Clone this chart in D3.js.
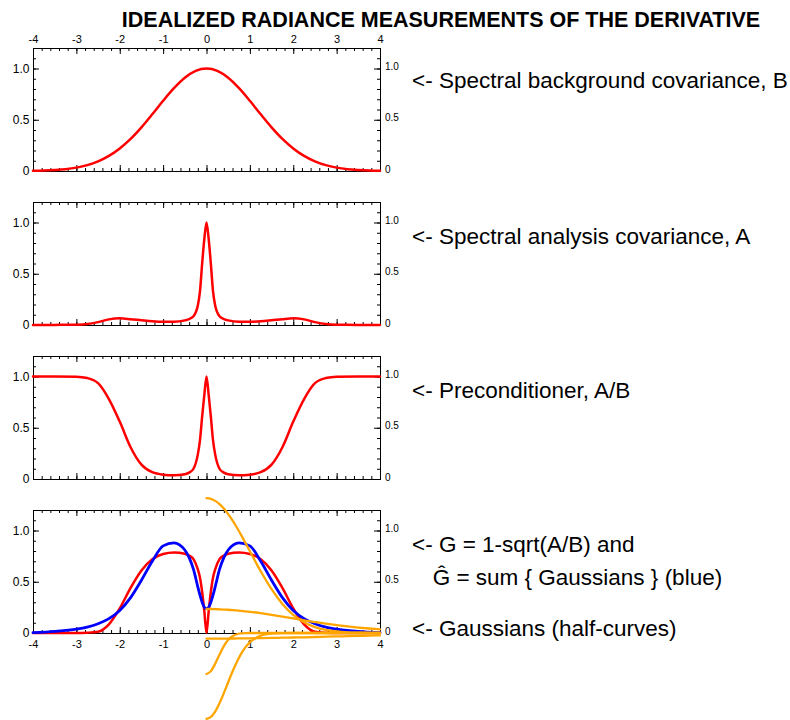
<!DOCTYPE html>
<html>
<head>
<meta charset="utf-8">
<script src="https://cdn.jsdelivr.net/npm/d3@7"></script>
<style>
body { margin: 0; background: #fff; }
text { font-family: "Liberation Sans", Arial, Helvetica, sans-serif; }
</style>
</head>
<body>
<div id="chart"></div>
<script>
const width = 790, height = 720;
const left = 33, right = 380, panelH = 123;
const panelTops = [48, 202, 356, 510];

const titleText = "IDEALIZED RADIANCE MEASUREMENTS OF THE DERIVATIVE";
const xTicks = [-4, -3, -2, -1, 0, 1, 2, 3, 4];
const yTicks = [0, 0.5, 1.0];
const yTickLabels = ["0", "0.5", "1.0"];

// panel 1: background covariance B
const xB = [-4, -3.75, -3.5, -3.25, -3, -2.75, -2.5, -2.25, -2, -1.75, -1.5, -1.25, -1, -0.75, -0.5, -0.25,
  0, 0.25, 0.5, 0.75, 1, 1.25, 1.5, 1.75, 2, 2.25, 2.5, 2.75, 3, 3.25, 3.5, 3.75, 4];
const valB = [0.002, 0.005, 0.010, 0.018, 0.033, 0.057, 0.094, 0.147, 0.220, 0.313, 0.426, 0.553, 0.685, 0.808, 0.910, 0.977,
  1.000, 0.977, 0.910, 0.808, 0.685, 0.553, 0.426, 0.313, 0.220, 0.147, 0.094, 0.057, 0.033, 0.018, 0.010, 0.005, 0.002];

// panels 2-4 share a finer grid around the spike
const xFine = [-4, -3.5, -3, -2.75, -2.5, -2.25, -2, -1.75, -1.5, -1.25, -1, -0.75, -0.5, -0.4, -0.3, -0.2, -0.15, -0.1, -0.05,
  0, 0.05, 0.1, 0.15, 0.2, 0.3, 0.4, 0.5, 0.75, 1, 1.25, 1.5, 1.75, 2, 2.25, 2.5, 2.75, 3, 3.5, 4];
const valA = [0, 0.001, 0.003, 0.009, 0.028, 0.055, 0.065, 0.057, 0.046, 0.036, 0.031, 0.031, 0.045, 0.058, 0.085, 0.19, 0.33, 0.60, 0.84,
  1.0, 0.84, 0.60, 0.33, 0.19, 0.085, 0.058, 0.045, 0.031, 0.031, 0.036, 0.046, 0.057, 0.065, 0.055, 0.028, 0.009, 0.003, 0.001, 0];
const valAB = [1.0, 1.0, 0.998, 0.985, 0.935, 0.78, 0.56, 0.31, 0.14, 0.066, 0.042, 0.036, 0.047, 0.062, 0.10, 0.24, 0.38, 0.61, 0.82,
  1.0, 0.82, 0.61, 0.38, 0.24, 0.10, 0.062, 0.047, 0.036, 0.042, 0.066, 0.14, 0.31, 0.56, 0.78, 0.935, 0.985, 0.998, 1.0, 1.0];
const valG = [0, 0, 0, 0.003, 0.013, 0.085, 0.24, 0.44, 0.61, 0.72, 0.77, 0.785, 0.773, 0.755, 0.72, 0.62, 0.54, 0.40, 0.21,
  0, 0.21, 0.40, 0.54, 0.62, 0.72, 0.755, 0.773, 0.785, 0.77, 0.72, 0.61, 0.44, 0.24, 0.085, 0.013, 0.003, 0, 0, 0];
const valGhat = [0.003, 0.016, 0.038, 0.058, 0.09, 0.14, 0.22, 0.345, 0.515, 0.70, 0.85, 0.88, 0.81, 0.735, 0.62, 0.45, 0.37, 0.30, 0.25,
  0.237, 0.25, 0.30, 0.37, 0.45, 0.62, 0.735, 0.81, 0.88, 0.85, 0.70, 0.515, 0.345, 0.22, 0.14, 0.09, 0.058, 0.038, 0.016, 0.003];

// the Gaussian half-curves, x >= 0
const xHalf = [0, 0.1, 0.2, 0.3, 0.4, 0.5, 0.6, 0.7, 0.8, 0.9, 1, 1.25, 1.5, 1.75, 2, 2.25, 2.5, 2.75, 3, 3.25, 3.5, 3.75, 4];
const gauss1 = [1.315, 1.308, 1.289, 1.257, 1.214, 1.160, 1.099, 1.029, 0.955, 0.877, 0.798, 0.602, 0.427, 0.284, 0.178, 0.105, 0.058, 0.030, 0.015, 0.007, 0.003, 0.001, 0];
const gauss2 = [0.234, 0.234, 0.233, 0.231, 0.229, 0.227, 0.224, 0.220, 0.216, 0.211, 0.207, 0.193, 0.177, 0.160, 0.142, 0.124, 0.107, 0.091, 0.077, 0.064, 0.053, 0.044, 0.036];
const gauss3 = [-0.40, -0.372, -0.300, -0.210, -0.128, -0.067, -0.031, -0.012, -0.004, -0.001, 0, 0, 0, 0, 0, 0, 0, 0, 0, 0, 0, 0, 0];
const gauss4 = [-0.837, -0.819, -0.766, -0.685, -0.586, -0.480, -0.376, -0.282, -0.202, -0.138, -0.091, -0.026, -0.006, -0.001, 0, 0, 0, 0, 0, 0, 0, 0, 0];
const gauss5 = [-0.055, -0.055, -0.055, -0.055, -0.054, -0.054, -0.054, -0.053, -0.053, -0.052, -0.052, -0.050, -0.0485, -0.046, -0.044, -0.042, -0.039, -0.036, -0.033, -0.031, -0.028, -0.025, -0.023];

const labelTexts = ["<- Spectral background covariance, B", "<- Spectral analysis covariance, A", "<- Preconditioner, A/B",
  "<- G = 1-sqrt(A/B) and", "\u011C = sum { Gaussians } (blue)", "<- Gaussians (half-curves)"];
const labelY = [88, 244, 398, 552, 585, 636];

const svg = d3.select("#chart").append("svg")
  .attr("width", width)
  .attr("height", height);

svg.append("text")
  .attr("x", 441)
  .attr("y", 27)
  .attr("text-anchor", "middle")
  .style("font-size", "21.5px")
  .style("font-weight", "bold")
  .text(titleText);

const x = d3.scaleLinear().domain([-4, 4]).range([left, right]);
const xMinor = d3.range(-40, 41, 2).map(d => d / 10);
const yMinor = d3.range(0, 13).map(d => d / 10);

const panels = [
  { lines: [{ xs: xB, ys: valB, color: "#ff0000", w: 2.5 }] },
  { lines: [{ xs: xFine, ys: valA, color: "#ff0000", w: 2.5 }] },
  { lines: [{ xs: xFine, ys: valAB, color: "#ff0000", w: 2.5 }] },
  { lines: [
    { xs: xFine, ys: valG, color: "#ff0000", w: 2.5 },
    { xs: xFine, ys: valGhat, color: "#0000ff", w: 2.8 },
    { xs: xHalf, ys: gauss1, color: "#ffa500", w: 2.3 },
    { xs: xHalf, ys: gauss2, color: "#ffa500", w: 2.3 },
    { xs: xHalf, ys: gauss3, color: "#ffa500", w: 2.3 },
    { xs: xHalf, ys: gauss4, color: "#ffa500", w: 2.3 },
    { xs: xHalf, ys: gauss5, color: "#ffa500", w: 2.3 }] }
];

function styleAxis(g, size) {
  g.select(".domain").remove();
  g.selectAll("line").attr("stroke", "#000");
  g.selectAll("text")
    .attr("fill", "#000")
    .style("font-family", '"Liberation Sans", Arial, Helvetica, sans-serif')
    .style("font-size", size + "px");
}

panels.forEach((p, i) => {
  const top = panelTops[i], bottom = top + panelH;
  const y = d3.scaleLinear().domain([0, 1.2]).range([bottom, top]);
  const g = svg.append("g");

  // minor ticks
  g.append("g").attr("transform", `translate(0,${top})`)
    .call(d3.axisTop(x).tickValues(xMinor).tickSizeInner(-3).tickSizeOuter(0).tickFormat(""))
    .call(a => styleAxis(a, 11));
  g.append("g").attr("transform", `translate(0,${bottom})`)
    .call(d3.axisBottom(x).tickValues(xMinor).tickSizeInner(-3).tickSizeOuter(0).tickFormat(""))
    .call(a => styleAxis(a, 11));
  g.append("g").attr("transform", `translate(${left},0)`)
    .call(d3.axisLeft(y).tickValues(yMinor).tickSizeInner(-3).tickSizeOuter(0).tickFormat(""))
    .call(a => styleAxis(a, 12));
  g.append("g").attr("transform", `translate(${right},0)`)
    .call(d3.axisRight(y).tickValues(yMinor).tickSizeInner(-3).tickSizeOuter(0).tickFormat(""))
    .call(a => styleAxis(a, 10));

  // major ticks + labels
  g.append("g").attr("transform", `translate(0,${top})`)
    .call(d3.axisTop(x).tickValues(xTicks).tickSizeInner(-6).tickSizeOuter(0).tickPadding(5)
      .tickFormat(d => i === 0 ? String(d) : ""))
    .call(a => styleAxis(a, 11));
  g.append("g").attr("transform", `translate(0,${bottom})`)
    .call(d3.axisBottom(x).tickValues(xTicks).tickSizeInner(-6).tickSizeOuter(0).tickPadding(7)
      .tickFormat(d => i === panels.length - 1 ? String(d) : ""))
    .call(a => styleAxis(a, 11));
  g.append("g").attr("transform", `translate(${left},0)`)
    .call(d3.axisLeft(y).tickValues(yTicks).tickSizeInner(-6).tickSizeOuter(0).tickPadding(3.5)
      .tickFormat((d, k) => yTickLabels[k]))
    .call(a => styleAxis(a, 12));
  g.append("g").attr("transform", `translate(${right},0)`)
    .call(d3.axisRight(y).tickValues(yTicks).tickSizeInner(-6).tickSizeOuter(0).tickPadding(5)
      .tickFormat((d, k) => yTickLabels[k]))
    .call(a => styleAxis(a, 10))
    .call(a => a.selectAll("text").attr("dy", "0.1em"));

  g.append("rect")
    .attr("x", left + 0.5)
    .attr("y", top + 0.5)
    .attr("width", right - left)
    .attr("height", panelH)
    .attr("fill", "none")
    .attr("stroke", "#000");

  const line = d3.line()
    .x(d => x(d[0]))
    .y(d => y(d[1]))
    .curve(d3.curveMonotoneX);

  p.lines.forEach(l => {
    g.append("path")
      .datum(d3.zip(l.xs, l.ys))
      .attr("d", line)
      .attr("fill", "none")
      .attr("stroke", l.color)
      .attr("stroke-width", l.w)
      .attr("stroke-linejoin", "round")
      .attr("stroke-linecap", "round");
  });
});

// right-hand annotations
const labels = svg.append("g").style("font-size", "22.5px");
const arrowW = labels.append("text").attr("x", -100).attr("y", -100).text("<- ");
const indent = 412 + arrowW.node().getComputedTextLength();
arrowW.remove();

labelTexts.forEach((t, i) => {
  labels.append("text")
    .attr("x", i === 4 ? indent : 412)
    .attr("y", labelY[i])
    .text(t);
});
</script>
</body>
</html>
